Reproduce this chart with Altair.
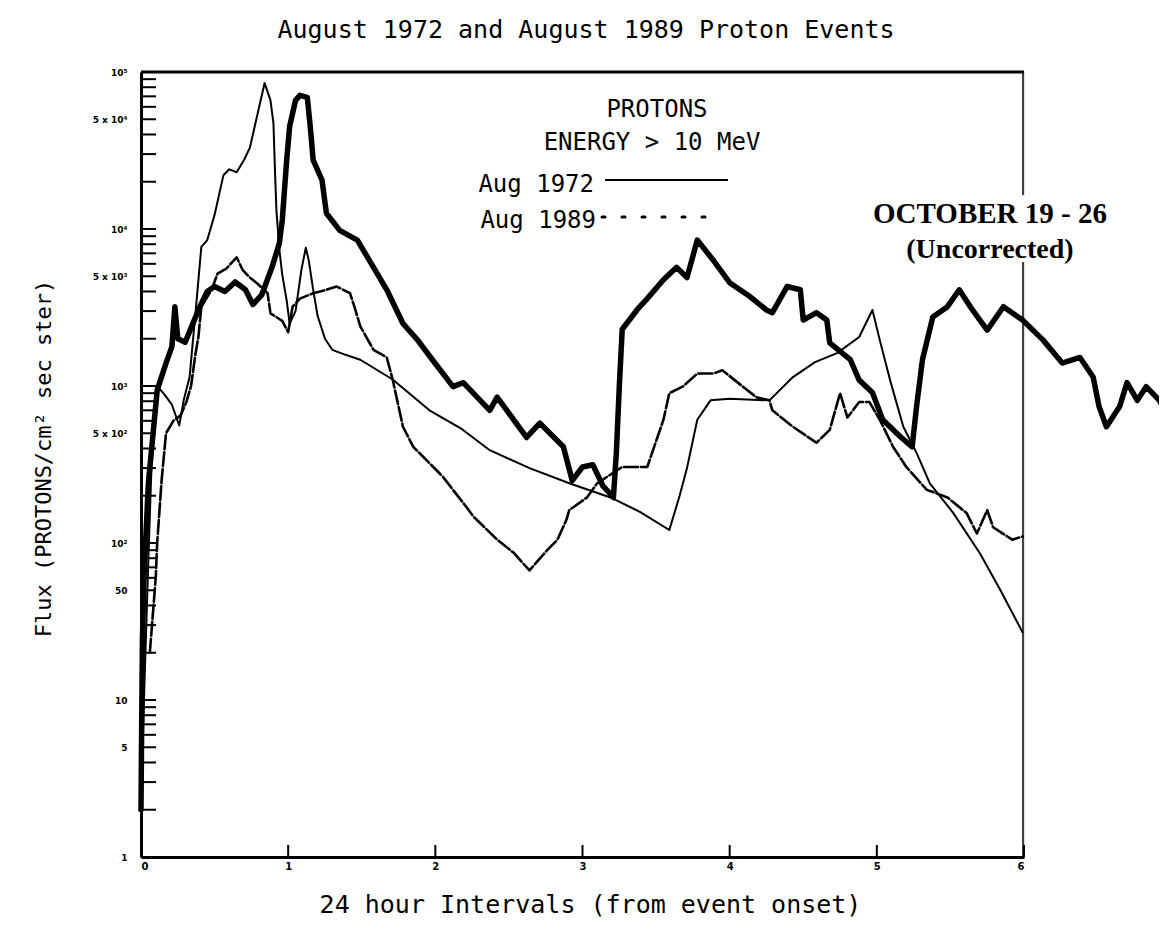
import altair as alt
import pandas as pd

# ---------------- data ----------------
aug72_t = [0.0, 0.02, 0.05, 0.075, 0.11, 0.16, 0.21, 0.26, 0.29, 0.33, 0.37, 0.41, 0.45, 0.50,
           0.56, 0.60, 0.65, 0.70, 0.74, 0.79, 0.84, 0.88, 0.90, 0.91, 0.92, 0.94, 0.96, 0.99,
           1.01, 1.05, 1.09, 1.12, 1.14, 1.17, 1.20, 1.25, 1.30, 1.39, 1.49, 1.71, 1.96, 2.17,
           2.37, 2.64, 2.91, 3.19, 3.39, 3.59, 3.66, 3.71, 3.78, 3.87, 4.00, 4.27, 4.43, 4.58,
           4.73, 4.88, 4.97, 5.02, 5.09, 5.18, 5.27, 5.36, 5.52, 5.70, 5.84, 5.99]
aug72_flux = [2, 10, 78, 390, 1000, 880, 760, 560, 810, 1140, 2900, 7700, 8500, 12300,
              22000, 24000, 23000, 27500, 33000, 53000, 85000, 66000, 47000, 24000, 13200, 7400, 5100, 3500,
              2500, 3000, 5500, 7600, 6300, 4100, 2800, 2000, 1700, 1580, 1470, 1100, 700, 540,
              390, 300, 240, 195, 158, 121, 200, 300, 610, 810, 830, 810, 1140, 1420,
              1620, 2050, 3050, 1960, 1090, 550, 375, 240, 155, 86, 50, 27]

aug89_t = [0.06, 0.10, 0.11, 0.14, 0.17, 0.22, 0.27, 0.31, 0.34, 0.37, 0.39, 0.41, 0.48, 0.52,
           0.58, 0.65, 0.69, 0.74, 0.79, 0.86, 0.88, 0.96, 1.00, 1.03, 1.08, 1.17, 1.26, 1.33,
           1.42, 1.45, 1.49, 1.58, 1.67, 1.71, 1.78, 1.85, 2.05, 2.21, 2.26, 2.42, 2.53, 2.64,
           2.76, 2.83, 2.89, 2.91, 3.03, 3.10, 3.27, 3.44, 3.55, 3.59, 3.68, 3.78, 3.89, 3.95,
           4.09, 4.18, 4.27, 4.29, 4.43, 4.59, 4.68, 4.75, 4.80, 4.88, 4.95, 5.02, 5.11, 5.20,
           5.34, 5.48, 5.61, 5.68, 5.75, 5.79, 5.92, 5.99]
aug89_flux = [20, 60, 100, 250, 500, 600, 650, 800, 1000, 1600, 2050, 3200, 4100, 5200,
              5600, 6600, 5500, 4900, 4500, 3900, 2900, 2600, 2200, 3200, 3600, 3900, 4100, 4300,
              3900, 3200, 2400, 1700, 1520, 1100, 550, 410, 265, 170, 147, 105, 87, 67,
              90, 105, 140, 162, 195, 240, 305, 305, 610, 900, 990, 1200, 1200, 1260,
              990, 850, 810, 700, 550, 435, 525, 900, 630, 790, 790, 610, 410, 305,
              218, 195, 155, 115, 162, 126, 105, 110]

oct89_t = [0.0, 0.005, 0.01, 0.02, 0.05, 0.11, 0.17, 0.21, 0.23, 0.25, 0.30, 0.36, 0.40, 0.45,
           0.50, 0.57, 0.64, 0.71, 0.76, 0.82, 0.89, 0.94, 0.96, 0.99, 1.01, 1.05, 1.08, 1.13,
           1.15, 1.17, 1.23, 1.26, 1.35, 1.47, 1.58, 1.67, 1.78, 1.88, 1.98, 2.12, 2.19, 2.37,
           2.42, 2.62, 2.71, 2.87, 2.93, 3.00, 3.07, 3.14, 3.21, 3.23, 3.25, 3.27, 3.37, 3.44,
           3.55, 3.64, 3.71, 3.78, 3.89, 4.00, 4.14, 4.25, 4.29, 4.39, 4.48, 4.50, 4.59, 4.66,
           4.68, 4.82, 4.88, 4.97, 5.04, 5.16, 5.24, 5.27, 5.31, 5.38, 5.48, 5.56, 5.65, 5.75,
           5.86, 5.99, 6.13, 6.26, 6.38, 6.47, 6.51, 6.56, 6.65, 6.70, 6.77, 6.83, 6.92, 6.98]
oct89_flux = [2, 8, 25, 60, 240, 940, 1400, 1780, 3200, 2000, 1900, 2600, 3200, 4000,
              4300, 4000, 4600, 4100, 3300, 3800, 5700, 8100, 11400, 27500, 45000, 66000, 71000, 69000,
              45000, 27500, 20500, 12600, 9800, 8500, 5700, 4100, 2500, 1960, 1470, 990, 1050, 700,
              850, 470, 580, 410, 250, 305, 315, 230, 195, 375, 990, 2300, 3050, 3600,
              4750, 5700, 4900, 8500, 6300, 4550, 3700, 3050, 2930, 4300, 4100, 2630, 2930, 2630,
              1880, 1470, 1090, 910, 610, 475, 410, 740, 1470, 2750, 3200, 4100, 3050, 2270,
              3200, 2630, 1960, 1400, 1520, 1140, 740, 550, 740, 1050, 810, 990, 810, 630]

x_ticks = [0, 1, 2, 3, 4, 5, 6]
y_label_values = [1, 5, 10, 50, 100, 500, 1000, 5000, 10000, 50000, 100000]
y_label_texts = ["1", "5", "10", "50", "10\u00b2", "5 x 10\u00b2", "10\u00b3", "5 x 10\u00b3",
                 "10\u2074", "5 x 10\u2074", "10\u2075"]
y_minor = [k * 10 ** d for d in range(0, 5) for k in range(1, 10)] + [100000]

title_text = "August 1972 and August 1989 Proton Events"
x_title = "24 hour Intervals (from event onset)"
y_title = "Flux (PROTONS/cm\u00b2 sec ster)"

# ---------------- chart ----------------
W, H = 883, 785
MONO = "DejaVu Sans Mono"

label_expr = "''"
for v, s in zip(y_label_values, y_label_texts):
    label_expr = f"datum.value == {v} ? '{s}' : ({label_expr})"

x_scale = alt.Scale(domain=[0, 6], nice=False, zero=False)
y_scale = alt.Scale(type="log", domain=[1, 100000], nice=False)

x_axis = alt.Axis(values=x_ticks, format="d", ticks=False, tickSize=0, grid=False,
                  domainColor="black", domainWidth=3, labelFont="DejaVu Sans",
                  labelFontSize=10, labelFontWeight="bold", labelColor="black", labelPadding=4,
                  title=x_title, titleFont=MONO, titleFontSize=25, titleFontWeight="normal",
                  titleColor="black", titleX=449, titleY=55, titleAlign="center",
                  titleBaseline="alphabetic")
y_axis = alt.Axis(values=y_label_values, labelExpr=label_expr, ticks=False, tickSize=0,
                  grid=False, domainColor="black", domainWidth=3, labelFont="DejaVu Sans",
                  labelFontSize=9, labelFontWeight="bold", labelColor="black", labelPadding=14,
                  labelOverlap=False, labelFlush=False,
                  title=y_title, titleFont=MONO, titleFontSize=22, titleFontWeight="normal",
                  titleColor="black", titleX=-98, titleY=386, titleAngle=-90,
                  titleAlign="center", titleBaseline="middle")

X = alt.X("t:Q", scale=x_scale, axis=x_axis)
Y = alt.Y("flux:Q", scale=y_scale, axis=y_axis)


def line(ts, fl, width, dash=None):
    df = pd.DataFrame({"t": ts, "flux": fl})
    kw = dict(color="black", strokeWidth=width, strokeJoin="round", strokeCap="round")
    if dash:
        kw["strokeDash"] = dash
    return alt.Chart(df).mark_line(**kw).encode(x=X, y=Y, order="t:Q")


l72 = line(aug72_t, aug72_flux, 2)
l89 = line(aug89_t, aug89_flux, 2.6, [14, 3])
loct = line(oct89_t, oct89_flux, 5.5)

ytick_layer = alt.Chart(pd.DataFrame({"flux": y_minor})).mark_rule(
    color="black", strokeWidth=2).encode(x=alt.value(0), x2=alt.value(15), y=Y)
xtick_layer = alt.Chart(pd.DataFrame({"t": x_ticks})).mark_rule(
    color="black", strokeWidth=2).encode(x=X, y=alt.value(H - 12), y2=alt.value(H))

top_frame = alt.Chart().mark_rule(color="black", strokeWidth=3).encode(
    x=alt.value(0), x2=alt.value(W), y=alt.value(0))
right_frame = alt.Chart().mark_rule(color="black", strokeWidth=1.5).encode(
    x=alt.value(W - 1), y=alt.value(0), y2=alt.value(H))
white_box = alt.Chart().mark_rect(color="white").encode(
    x=alt.value(714), x2=alt.value(984), y=alt.value(123), y2=alt.value(190))


def txt(s, x, y, size, font=MONO, weight="normal", align="center"):
    return alt.Chart().mark_text(text=s, font=font, fontSize=size, fontWeight=weight,
                                 align=align, baseline="alphabetic", color="black").encode(
        x=alt.value(x), y=alt.value(y))


texts = [
    txt(title_text, 445, -34, 25),
    txt("PROTONS", 516, 45, 24),
    txt("ENERGY > 10 MeV", 511, 78, 24),
    txt("Aug\u00a01972", 453, 120, 24, align="right"),
    txt("Aug\u00a01989", 455, 156, 24, align="right"),
    txt("OCTOBER 19 - 26", 849, 151, 29, font="Liberation Serif", weight="bold"),
    txt("(Uncorrected)", 849, 186, 28, font="Liberation Serif", weight="bold"),
]

leg_solid = alt.Chart().mark_rule(color="black", strokeWidth=2).encode(
    x=alt.value(464), x2=alt.value(587), y=alt.value(108))
leg_dots = alt.Chart().mark_rule(color="black", strokeWidth=3, strokeDash=[3, 17],
                                 strokeCap="round").encode(
    x=alt.value(461), x2=alt.value(575), y=alt.value(145))

chart = alt.layer(
    ytick_layer, xtick_layer, top_frame, right_frame, white_box,
    l72, l89, loct, leg_solid, leg_dots, *texts
).properties(
    width=W, height=H,
    padding={"left": 133, "top": 64, "right": 135, "bottom": 60},
    autosize=alt.AutoSizeParams(type="none"),
).configure_view(stroke=None).configure(background="white")

chart.save("out.html", embed_options={"renderer": "svg", "actions": False})
